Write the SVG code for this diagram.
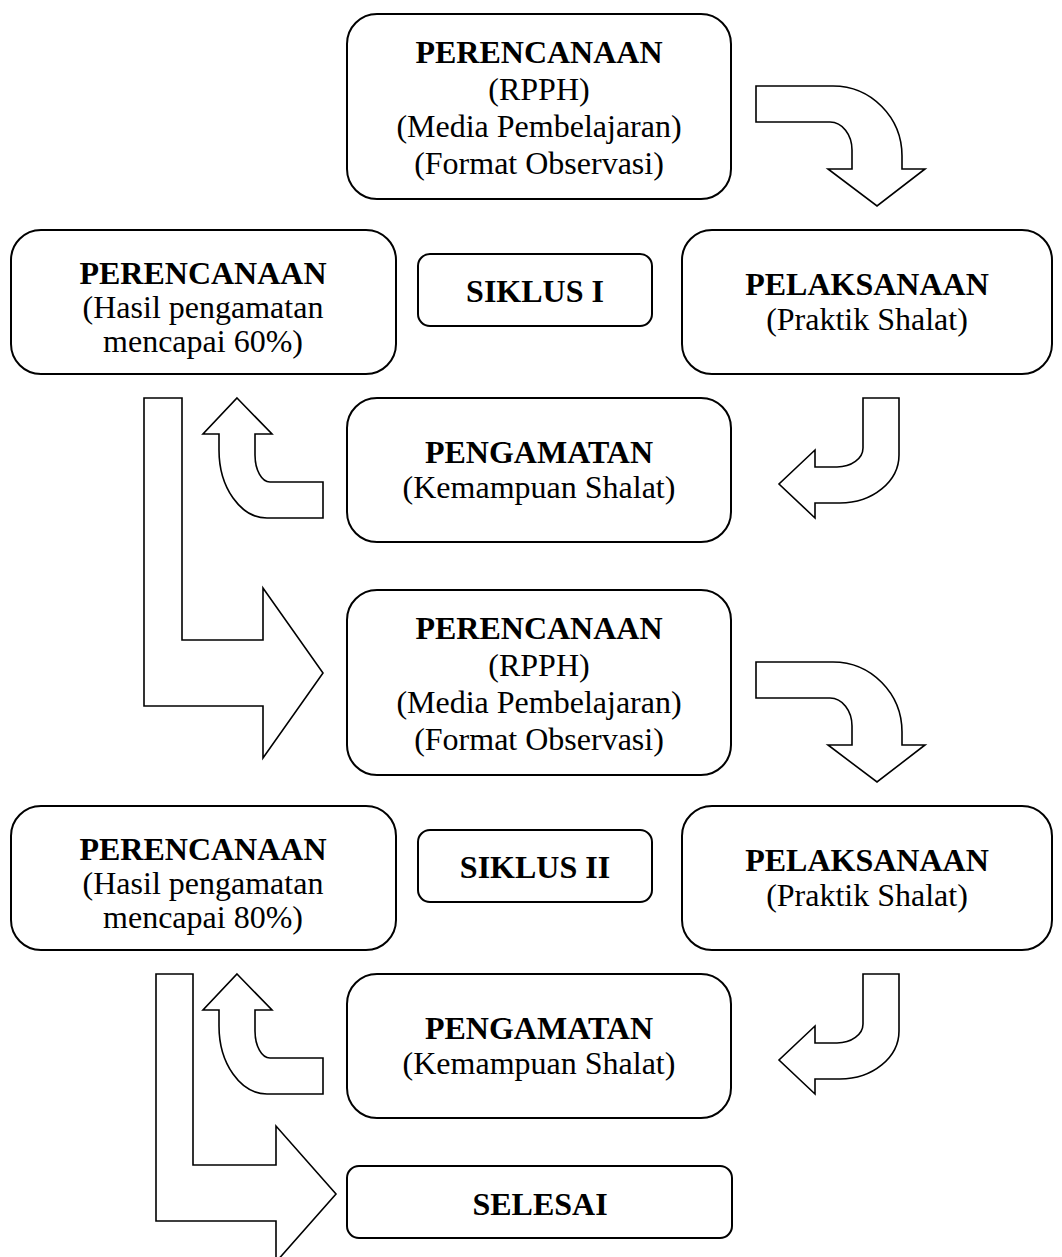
<svg xmlns="http://www.w3.org/2000/svg" width="1062" height="1257" viewBox="0 0 1062 1257">
<style>
.box{fill:#fff;stroke:#000;stroke-width:2}
.arr{fill:#fff;stroke:#000;stroke-width:1.6;stroke-linejoin:miter}
text{font-family:"Liberation Serif","Times New Roman",serif;font-size:32px;fill:#000;text-anchor:middle}
.b{font-weight:bold}
</style>
<rect width="1062" height="1257" fill="#fff"/>
<g id="connectors">
<path class="arr" d="M756,86 H833 A69,70 0 0 1 902,156 V169 H925 L877,206 L828,169 H852 V150 A22,28 0 0 0 830,122 H756 Z"/>
<path class="arr" d="M863,398 H899 V455 A59,48 0 0 1 840,503 H815 V518 L779,484 L815,450 V467 H837 A26,19 0 0 0 863,448 Z"/>
<path class="arr" d="M237,398 L272,434 H255 V455 A15,27 0 0 0 270,482 H323 V518 H267 A48,68 0 0 1 219,450 V434 H203 Z"/>
<path class="arr" d="M144,398 H182 V640 H263 V588 L323,673 L263,758 V706 H144 Z"/>
<path class="arr" d="M756,662 H833 A69,70 0 0 1 902,732 V745 H925 L877,782 L828,745 H852 V726 A22,28 0 0 0 830,698 H756 Z"/>
<path class="arr" d="M863,974 H899 V1031 A59,48 0 0 1 840,1079 H815 V1094 L779,1060 L815,1026 V1043 H837 A26,19 0 0 0 863,1024 Z"/>
<path class="arr" d="M237,974 L272,1010 H255 V1031 A15,27 0 0 0 270,1058 H323 V1094 H267 A48,68 0 0 1 219,1026 V1010 H203 Z"/>
<path class="arr" d="M156,974 H193 V1165 H276 V1126 L336,1194 L276,1262 V1221 H156 Z"/>
</g>
<g id="perencanaan1">
<rect class="box" x="347" y="14" width="384" height="185" rx="30"/>
<text x="539" y="63" class="b">PERENCANAAN</text>
<text x="539" y="100">(RPPH)</text>
<text x="539" y="137">(Media Pembelajaran)</text>
<text x="539" y="174">(Format Observasi)</text>
</g>
<g id="refleksi1">
<rect class="box" x="11" y="230" width="385" height="144" rx="30"/>
<text x="203" y="284" class="b">PERENCANAAN</text>
<text x="203" y="318">(Hasil pengamatan</text>
<text x="203" y="352">mencapai 60%)</text>
</g>
<g id="siklus1">
<rect class="box" x="418" y="254" width="234" height="72" rx="12"/>
<text x="535" y="302" class="b">SIKLUS I</text>
</g>
<g id="pelaksanaan1">
<rect class="box" x="682" y="230" width="370" height="144" rx="30"/>
<text x="867" y="295" class="b">PELAKSANAAN</text>
<text x="867" y="330">(Praktik Shalat)</text>
</g>
<g id="pengamatan1">
<rect class="box" x="347" y="398" width="384" height="144" rx="30"/>
<text x="539" y="463" class="b">PENGAMATAN</text>
<text x="539" y="498">(Kemampuan Shalat)</text>
</g>
<g id="perencanaan2">
<rect class="box" x="347" y="590" width="384" height="185" rx="30"/>
<text x="539" y="639" class="b">PERENCANAAN</text>
<text x="539" y="676">(RPPH)</text>
<text x="539" y="713">(Media Pembelajaran)</text>
<text x="539" y="750">(Format Observasi)</text>
</g>
<g id="refleksi2">
<rect class="box" x="11" y="806" width="385" height="144" rx="30"/>
<text x="203" y="860" class="b">PERENCANAAN</text>
<text x="203" y="894">(Hasil pengamatan</text>
<text x="203" y="928">mencapai 80%)</text>
</g>
<g id="siklus2">
<rect class="box" x="418" y="830" width="234" height="72" rx="12"/>
<text x="535" y="878" class="b">SIKLUS II</text>
</g>
<g id="pelaksanaan2">
<rect class="box" x="682" y="806" width="370" height="144" rx="30"/>
<text x="867" y="871" class="b">PELAKSANAAN</text>
<text x="867" y="906">(Praktik Shalat)</text>
</g>
<g id="pengamatan2">
<rect class="box" x="347" y="974" width="384" height="144" rx="30"/>
<text x="539" y="1039" class="b">PENGAMATAN</text>
<text x="539" y="1074">(Kemampuan Shalat)</text>
</g>
<g id="selesai">
<rect class="box" x="347" y="1166" width="385" height="72" rx="12"/>
<text x="540" y="1215" class="b">SELESAI</text>
</g>
</svg>
